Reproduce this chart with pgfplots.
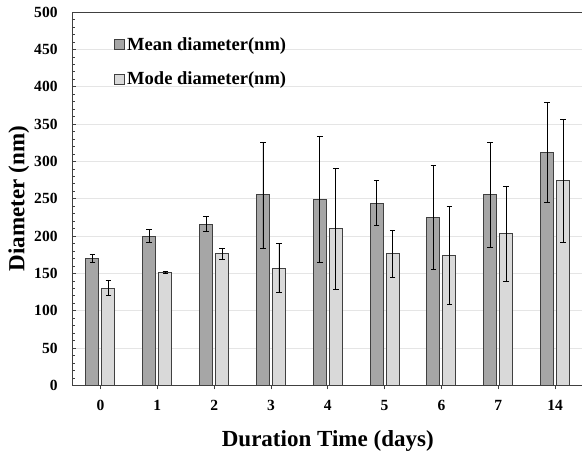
\documentclass[border=0pt]{standalone}
\usepackage{fontspec}
\setmainfont{Liberation Serif}
\usepackage{pgfplots}
\pgfplotsset{compat=1.18}
\definecolor{darkbar}{HTML}{A6A6A6}
\definecolor{lightbar}{HTML}{D9D9D9}
\definecolor{edge}{HTML}{404040}
\begin{document}
\begin{tikzpicture}
\begin{axis}[
  name=ax,
  scale only axis,
  width=511pt, height=373pt,
  ymin=0, ymax=500,
  xmin=-0.5, xmax=8.5,
  ybar=3pt, bar width=13pt,
  xtick={0,...,8},
  xticklabels={0,1,2,3,4,5,6,7,14},
  ytick={0,50,...,500},
  minor y tick num=4,
  tick pos=left,
  xtick align=outside,
  ytick align=inside,
  major tick length=4pt,
  minor tick length=3pt,
  tick style={edge, line width=0.6pt},
  ymajorgrids,
  grid style={color=black!10, line width=0.8pt},
  axis line style={edge, line width=1pt},
  /pgf/number format/assume math mode=true,
  ticklabel style={font=\bfseries\fontsize{15.5}{15.5}\selectfont},
  yticklabel style={xshift=-11pt},
  xticklabel style={yshift=-7pt},
  xlabel={Duration Time (days)},
  ylabel={Diameter (nm)},
  label style={font=\bfseries\fontsize{23}{23}\selectfont},
  xlabel style={yshift=-13pt},
  ylabel style={yshift=-2pt},
  legend style={at={(0.075,0.943)}, anchor=north west, draw=none, fill=none,
    font=\bfseries\fontsize{18.5}{18.5}\selectfont, row sep=16pt, cells={anchor=west},
    /tikz/every odd column/.style={column sep=1pt}},
  legend image code/.code={\draw[#1, line width=0.6pt] (0pt,-5pt) rectangle (10pt,5pt);},
  error bars/error bar style={black, line width=0.8pt},
  error bars/error mark options={rotate=90, mark size=2.8pt, line width=0.8pt, black},
]
\addplot[fill=darkbar, draw=edge, line width=1pt,
  error bars/.cd, y dir=both, y explicit]
  coordinates {
  (0,170) +- (0,6)
  (1,200) +- (0,9)
  (2,216) +- (0,10)
  (3,255) +- (0,71)
  (4,249) +- (0,85)
  (5,244) +- (0,30)
  (6,225) +- (0,70)
  (7,255) +- (0,70)
  (8,312) +- (0,67)
  };
\addplot[fill=lightbar, draw=edge, line width=1pt,
  error bars/.cd, y dir=both, y explicit]
  coordinates {
  (0,130) +- (0,10)
  (1,151) +- (0,1)
  (2,176) +- (0,8)
  (3,157) +- (0,33)
  (4,210) +- (0,81)
  (5,176) +- (0,31)
  (6,174) +- (0,66)
  (7,203) +- (0,64)
  (8,274) +- (0,82)
  };
\legend{Mean diameter(nm), Mode diameter(nm)}
\end{axis}
\pgfresetboundingbox
\path ([shift={(-72pt,-69pt)}]ax.south west) rectangle ([shift={(-1.5pt,12pt)}]ax.north east);
\end{tikzpicture}
\end{document}
